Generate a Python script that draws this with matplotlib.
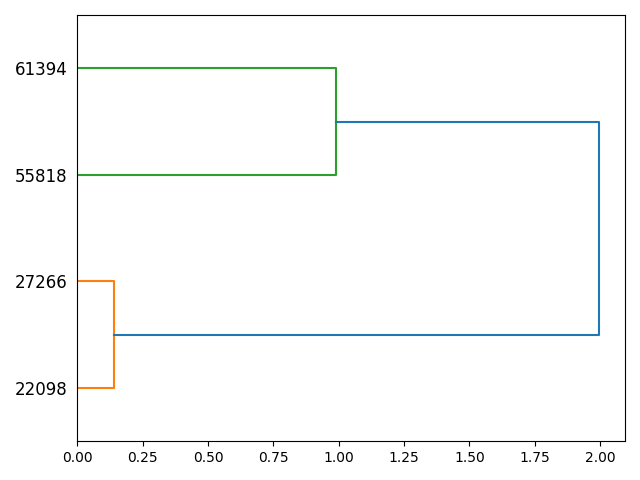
import numpy as np
import matplotlib.pyplot as plt

# leaves, bottom to top
leaf_labels = ["22098", "27266", "55818", "61394"]
# merge distances
d_low = 0.1415    # 22098 + 27266
d_high = 0.99     # 55818 + 61394
d_root = 1.996    # both clusters

leaf_y = [5, 15, 25, 35]

fig, ax = plt.subplots(figsize=(6.4, 4.8), dpi=100)


def link(ax, y1, y2, h1, h2, h, color):
    ax.plot([h1, h, h, h2], [y1, y1, y2, y2], color=color, linewidth=1.5)


link(ax, leaf_y[0], leaf_y[1], 0, 0, d_low, "C1")
link(ax, leaf_y[2], leaf_y[3], 0, 0, d_high, "C2")
mid_a = (leaf_y[0] + leaf_y[1]) / 2
mid_b = (leaf_y[2] + leaf_y[3]) / 2
link(ax, mid_a, mid_b, d_low, d_high, d_root, "C0")

ax.set_ylim(0, 40)
ax.set_xlim(0, d_root * 1.05)
ax.set_yticks(leaf_y)
ax.set_yticklabels(leaf_labels, fontsize=12)
for line in ax.get_yticklines():
    line.set_visible(False)

plt.tight_layout()
plt.savefig("out.png")
